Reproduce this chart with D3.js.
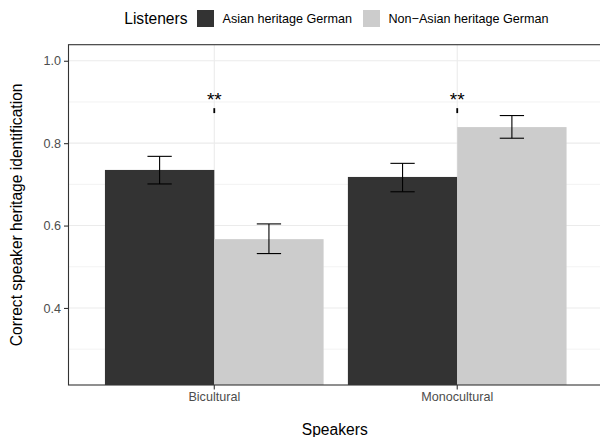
<!DOCTYPE html>
<html>
<head>
<meta charset="utf-8">
<script src="https://cdn.jsdelivr.net/npm/d3@7"></script>
<style>
  body { margin: 0; background: #fff; }
  text { font-family: "Liberation Sans", Arial, sans-serif; }
</style>
</head>
<body>
<div id="chart"></div>
<script>
// data
const speakers = ["Bicultural", "Monocultural"];
const listeners = ["Asian heritage German", "Non\u2212Asian heritage German"];
const meanAsian = [0.735, 0.718];
const meanNonAsian = [0.567, 0.839];
const lowAsian = [0.701, 0.682];
const highAsian = [0.768, 0.751];
const lowNonAsian = [0.532, 0.812];
const highNonAsian = [0.604, 0.867];
const sigLabels = ["**", "**"];
const sigTickLow = [0.873, 0.873];
const sigTickHigh = [0.885, 0.885];
const sigTextY = [0.918, 0.918];
const yTicks = [0.4, 0.6, 0.8, 1.0];
const yMinor = [0.3, 0.5, 0.7, 0.9];
const barColors = ["#333333", "#CCCCCC"];

const W = 600, H = 437;
const panel = {left: 68.5, right: 603, top: 44.7, bottom: 385};

const svg = d3.select("#chart").append("svg")
    .attr("width", W)
    .attr("height", H);

const x0 = d3.scaleBand()
    .domain(speakers)
    .range([panel.left, panel.right])
    .paddingInner(0.1)
    .paddingOuter(0.15);

const x1 = d3.scaleBand()
    .domain(listeners)
    .range([0, x0.bandwidth()]);

const y = d3.scaleLinear()
    .domain([0.213, 1.039])
    .range([panel.bottom, panel.top]);

const color = d3.scaleOrdinal().domain(listeners).range(barColors);

// rows for bars
const rows = [];
speakers.forEach((s, i) => {
    rows.push({speaker: s, listener: listeners[0], mean: meanAsian[i], lo: lowAsian[i], hi: highAsian[i]});
    rows.push({speaker: s, listener: listeners[1], mean: meanNonAsian[i], lo: lowNonAsian[i], hi: highNonAsian[i]});
});

// grid
const grid = svg.append("g");
grid.selectAll("line.minor")
    .data(yMinor)
    .enter().append("line")
    .attr("x1", panel.left).attr("x2", panel.right)
    .attr("y1", d => y(d)).attr("y2", d => y(d))
    .attr("stroke", "#EBEBEB").attr("stroke-width", 0.6);
grid.selectAll("line.major")
    .data(yTicks)
    .enter().append("line")
    .attr("x1", panel.left).attr("x2", panel.right)
    .attr("y1", d => y(d)).attr("y2", d => y(d))
    .attr("stroke", "#EBEBEB").attr("stroke-width", 1.1);
grid.selectAll("line.vmajor")
    .data(speakers)
    .enter().append("line")
    .attr("x1", d => x0(d) + x0.bandwidth() / 2).attr("x2", d => x0(d) + x0.bandwidth() / 2)
    .attr("y1", panel.top).attr("y2", panel.bottom)
    .attr("stroke", "#EBEBEB").attr("stroke-width", 1.1);

// bars
svg.append("g")
    .selectAll("rect")
    .data(rows)
    .enter().append("rect")
    .attr("x", d => x0(d.speaker) + x1(d.listener))
    .attr("y", d => y(d.mean))
    .attr("width", x1.bandwidth())
    .attr("height", d => panel.bottom - y(d.mean))
    .attr("fill", d => color(d.listener));

// error bars
const capW = x0.step() * 0.1;
const eb = svg.append("g")
    .attr("stroke", "#000")
    .attr("stroke-width", 1.1)
    .selectAll("g")
    .data(rows)
    .enter().append("g")
    .attr("transform", d => `translate(${x0(d.speaker) + x1(d.listener) + x1.bandwidth() / 2},0)`);
eb.append("line")
    .attr("y1", d => y(d.lo)).attr("y2", d => y(d.hi));
eb.append("line")
    .attr("x1", -capW / 2).attr("x2", capW / 2)
    .attr("y1", d => y(d.hi)).attr("y2", d => y(d.hi));
eb.append("line")
    .attr("x1", -capW / 2).attr("x2", capW / 2)
    .attr("y1", d => y(d.lo)).attr("y2", d => y(d.lo));

// significance marks
const sig = svg.append("g")
    .selectAll("g")
    .data(speakers)
    .enter().append("g")
    .attr("transform", d => `translate(${x0(d) + x0.bandwidth() / 2},0)`);
sig.append("line")
    .attr("y1", (d, i) => y(sigTickLow[i]))
    .attr("y2", (d, i) => y(sigTickHigh[i]))
    .attr("stroke", "#000")
    .attr("stroke-width", 1.8);
sig.append("text")
    .attr("y", (d, i) => y(sigTextY[i]))
    .attr("text-anchor", "middle")
    .attr("dy", "0.6em")
    .attr("font-size", 19)
    .attr("fill", "#000")
    .text((d, i) => sigLabels[i]);

// panel border
svg.append("rect")
    .attr("x", panel.left).attr("y", panel.top)
    .attr("width", panel.right - panel.left)
    .attr("height", panel.bottom - panel.top)
    .attr("fill", "none")
    .attr("stroke", "#333333")
    .attr("stroke-width", 1.1);

// axes
const yAxis = svg.append("g")
    .attr("transform", `translate(${panel.left},0)`)
    .call(d3.axisLeft(y).tickValues(yTicks).tickFormat(d3.format(".1f")).tickSize(4.5).tickPadding(3));
const xAxis = svg.append("g")
    .attr("transform", `translate(0,${panel.bottom})`)
    .call(d3.axisBottom(x0).tickSize(4.5).tickPadding(3));
[yAxis, xAxis].forEach(a => {
    a.select(".domain").remove();
    a.selectAll(".tick line").attr("stroke", "#333333").attr("stroke-width", 1.1);
    a.selectAll(".tick text")
        .attr("fill", "#4D4D4D")
        .attr("font-size", 12.6)
        .attr("font-family", "Liberation Sans, Arial, sans-serif");
});

// axis titles
svg.append("text")
    .attr("x", (panel.left + panel.right) / 2 - 1)
    .attr("y", 430)
    .attr("dy", "0.35em")
    .attr("text-anchor", "middle")
    .attr("font-size", 15.6)
    .attr("fill", "#000")
    .text("Speakers");
svg.append("text")
    .attr("transform", `translate(17,${(panel.top + panel.bottom) / 2}) rotate(-90)`)
    .attr("dy", "0.35em")
    .attr("text-anchor", "middle")
    .attr("font-size", 15.6)
    .attr("fill", "#000")
    .text("Correct speaker heritage identification");

// legend
const legend = svg.append("g").attr("transform", "translate(0,18.5)");
legend.append("text")
    .attr("x", 187.5)
    .attr("dy", "0.35em")
    .attr("text-anchor", "end")
    .attr("font-size", 15.6)
    .attr("fill", "#000")
    .text("Listeners");
const keyX = [197, 363];
const item = legend.selectAll("g.item")
    .data(listeners)
    .enter().append("g")
    .attr("transform", (d, i) => `translate(${keyX[i]},0)`);
item.append("rect")
    .attr("x", 0).attr("y", -8.5)
    .attr("width", 17).attr("height", 17)
    .attr("fill", d => color(d));
item.append("text")
    .attr("x", 25.5)
    .attr("dy", "0.35em")
    .attr("font-size", 12.6)
    .attr("fill", "#000")
    .text(d => d);
</script>
</body>
</html>
